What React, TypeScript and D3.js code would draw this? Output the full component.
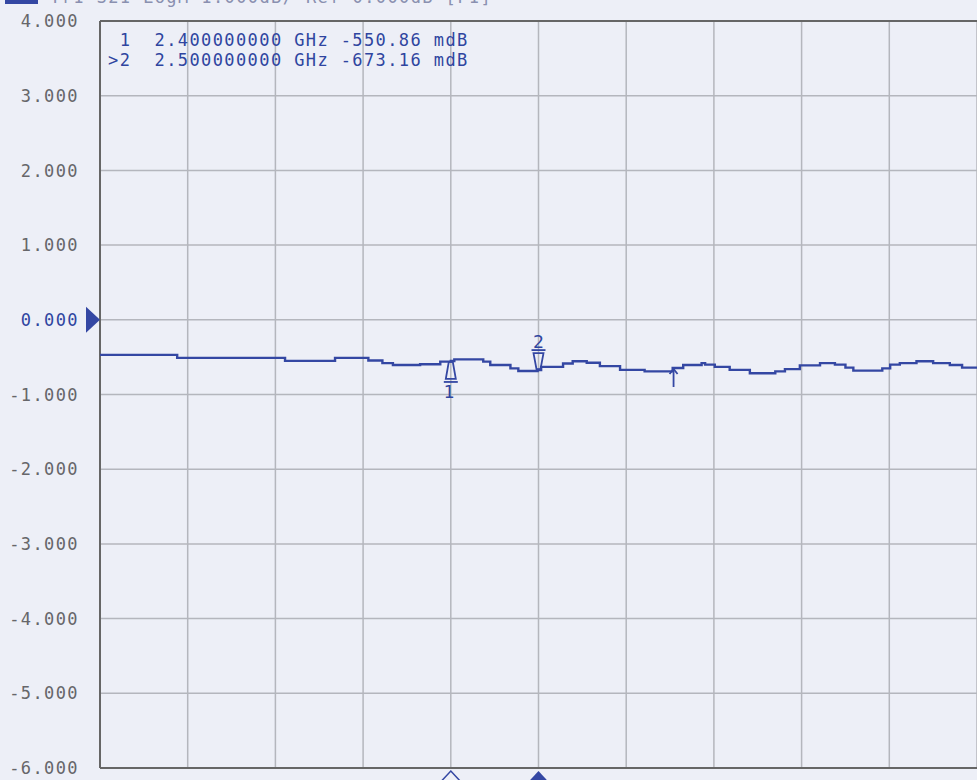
import React from "react";
import * as d3 from "d3";

const W = 977;
const H = 780;

// Trace: frequency (GHz) and S21 magnitude (dB)
const traceFreq = [
  2.0, 2.088, 2.211, 2.268, 2.306, 2.322, 2.334, 2.365, 2.388, 2.4, 2.404, 2.437,
  2.445, 2.468, 2.477, 2.499, 2.503, 2.528, 2.539, 2.555, 2.57, 2.593, 2.621, 2.653,
  2.665, 2.686, 2.69, 2.701, 2.718, 2.741, 2.77, 2.781, 2.798, 2.821, 2.838, 2.85,
  2.859, 2.892, 2.901, 2.912, 2.931, 2.95, 2.969, 2.983, 3.0,
];
const traceDb = [
  -0.47, -0.51, -0.55, -0.51, -0.545, -0.58, -0.605, -0.595, -0.56, -0.551, -0.53, -0.56,
  -0.605, -0.65, -0.685, -0.673, -0.63, -0.585, -0.555, -0.575, -0.62, -0.67, -0.69, -0.645,
  -0.605, -0.58, -0.6, -0.63, -0.67, -0.715, -0.69, -0.66, -0.61, -0.58, -0.6, -0.64,
  -0.68, -0.65, -0.6, -0.58, -0.555, -0.58, -0.605, -0.64, -0.64,
];

const yTicks = [4, 3, 2, 1, 0, -1, -2, -3, -4, -5, -6];
const yTickLabels = ["4.000", "3.000", "2.000", "1.000", "0.000", "-1.000", "-2.000", "-3.000", "-4.000", "-5.000", "-6.000"];
const xGrid = [2.0, 2.1, 2.2, 2.3, 2.4, 2.5, 2.6, 2.7, 2.8, 2.9, 3.0];

const markerFreq = [2.4, 2.5];
const markerDb = [-0.551, -0.673];
const markerLines = [
  " 1  2.400000000 GHz -550.86 mdB",
  ">2  2.500000000 GHz -673.16 mdB",
];

const headerText = "Tr1 S21 LogM 1.000dB/ Ref 0.000dB [F1]";

const BLUE = "#3447a3";
const TEXT_BLUE = "#2f45a0";
const GRAY = "#66666a";
const GRID = "#b4b6bd";
const BG = "#edeff7";
const MONO = "'DejaVu Sans Mono', monospace";

export default function App() {
  const left = 100;
  const right = 977;
  const top = 21;
  const bottom = 768;

  const x = d3.scaleLinear().domain([2.0, 3.0]).range([left, right]);
  const y = d3.scaleLinear().domain([-6, 4]).range([bottom, top]);

  const pts = traceFreq.map((f, i) => [f, traceDb[i]] as [number, number]);
  const line = d3
    .line<[number, number]>()
    .x((d) => x(d[0]))
    .y((d) => y(d[1]))
    .curve(d3.curveStepAfter);

  const m1x = x(markerFreq[0]);
  const m1y = y(markerDb[0]);
  const m2x = x(markerFreq[1]);
  const m2y = y(markerDb[1]);
  const refX = x(2.654);
  const refY = y(-0.645);

  return (
    <svg
      width={W}
      height={H}
      style={{ position: "absolute", left: 0, top: 0, display: "block" }}
    >
      <defs>
        <clipPath id="plotClip">
          <rect x={left} y={top} width={right - left} height={bottom - top} />
        </clipPath>
      </defs>
      <rect x={0} y={0} width={W} height={H} fill={BG} />

      {/* header, mostly cut off at top */}
      <rect x={5} y={0} width={33} height={4} fill={BLUE} />
      <text x={50} y={3} fontFamily={MONO} fontSize={17} fill="#8a90b0" letterSpacing={1.4}>
        {headerText}
      </text>

      {/* grid */}
      {yTicks.map((t) => (
        <line key={"h" + t} x1={left} x2={right} y1={y(t)} y2={y(t)} stroke={GRID} strokeWidth={1.5} />
      ))}
      {xGrid.map((f) => (
        <line key={"v" + f} x1={x(f)} x2={x(f)} y1={top} y2={bottom} stroke={GRID} strokeWidth={1.5} />
      ))}

      {/* frame */}
      <line x1={left} x2={right} y1={top} y2={top} stroke="#666" strokeWidth={2} />
      <line x1={left} x2={right} y1={bottom} y2={bottom} stroke="#666" strokeWidth={2} />
      <line x1={left} x2={left} y1={top} y2={bottom} stroke="#666" strokeWidth={2} />

      {/* y labels */}
      {yTicks.map((t, i) => (
        <text
          key={"l" + t}
          x={79}
          y={y(t)}
          dy="0.36em"
          textAnchor="end"
          fontFamily={MONO}
          fontSize={17}
          letterSpacing={1.4}
          fill={t === 0 ? TEXT_BLUE : GRAY}
        >
          {yTickLabels[i]}
        </text>
      ))}

      {/* reference position arrow */}
      <path d={`M${left - 14},${y(0) - 13} L${left},${y(0)} L${left - 14},${y(0) + 13} Z`} fill={BLUE} />

      {/* trace */}
      <g clipPath="url(#plotClip)">
        <path d={line(pts) || ""} fill="none" stroke={BLUE} strokeWidth={2.4} />
      </g>

      {/* marker readout */}
      {markerLines.map((s, i) => (
        <text
          key={"mt" + i}
          x={108}
          y={46 + i * 20}
          fontFamily={MONO}
          fontSize={17}
          letterSpacing={1.4}
          fill={TEXT_BLUE}
          style={{ whiteSpace: "pre" }}
        >
          {s}
        </text>
      ))}

      {/* marker 1: up triangle below trace */}
      <g stroke={BLUE} strokeWidth={1.8} fill="none">
        <path d={`M${m1x - 2},${m1y + 1} L${m1x + 2},${m1y + 1} L${m1x + 5},${m1y + 18} L${m1x - 5},${m1y + 18} Z`} />
        <line x1={m1x - 7} x2={m1x + 7} y1={m1y + 21} y2={m1y + 21} />
      </g>
      <text x={m1x - 2} y={m1y + 37} textAnchor="middle" fontFamily={MONO} fontSize={18} fill={TEXT_BLUE}>
        1
      </text>

      {/* marker 2: down triangle above trace (active) */}
      <g stroke={BLUE} strokeWidth={1.8} fill="none">
        <line x1={m2x - 7} x2={m2x + 7} y1={m2y - 20} y2={m2y - 20} />
        <path d={`M${m2x - 5},${m2y - 17} L${m2x + 5},${m2y - 17} L${m2x + 2},${m2y - 1} L${m2x - 2},${m2y - 1} Z`} />
      </g>
      <text x={m2x} y={m2y - 22} textAnchor="middle" fontFamily={MONO} fontSize={18} fill={TEXT_BLUE}>
        2
      </text>

      {/* reference marker arrow */}
      <g stroke={BLUE} strokeWidth={1.8} fill="none">
        <line x1={refX} x2={refX} y1={refY + 1} y2={refY + 19} />
        <path d={`M${refX - 4},${refY + 6} L${refX},${refY + 1} L${refX + 4},${refY + 6}`} />
      </g>

      {/* bottom marker indicators */}
      <path d={`M${m1x},${bottom + 3} L${m1x + 13},${bottom + 17} L${m1x - 13},${bottom + 17} Z`} fill="none" stroke={BLUE} strokeWidth={1.5} />
      <path d={`M${m2x},${bottom + 3} L${m2x + 13},${bottom + 17} L${m2x - 13},${bottom + 17} Z`} fill={BLUE} />
    </svg>
  );
}
